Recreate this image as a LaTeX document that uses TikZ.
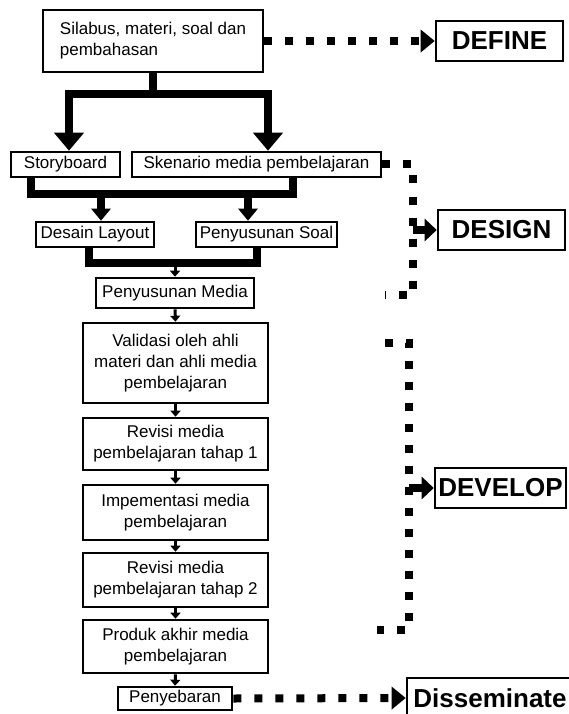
\documentclass[tikz,border=0pt]{standalone}
\usepackage{fontspec}
\setmainfont{Liberation Sans}
\usetikzlibrary{arrows.meta,calc}

\begin{document}
\begin{tikzpicture}[x=1pt, y=-1pt, line join=miter, font=\fontsize{17}{21}\selectfont,
    box/.style={draw, line width=2.6pt, align=center, inner sep=1pt},
    stage/.style={draw, line width=2.6pt, inner sep=1pt, minimum height=40pt, font=\fontsize{26}{30}\selectfont\bfseries},
    bigline/.style={line width=8pt},
    midtip/.style={-{Triangle[length=12pt,width=19pt]}},
    flow/.style={line width=3pt, -{Triangle[length=6pt,width=10pt]}},
    dotline/.style={line width=8pt, dash pattern=on 8pt off 13pt},
    dotarrow/.style={dotline, -{Triangle[length=14pt,width=22pt]}},
    phase/.style={line width=8pt, -{Triangle[length=12pt,width=22pt]}}]
\useasboundingbox (0,0) rectangle (568,714);

% langkah-langkah
\node[box, align=left, minimum width=220pt, minimum height=62pt] (silabus) at (153,41) {Silabus, materi, soal dan\\pembahasan};
\node[box, minimum width=109pt, minimum height=25pt] (storyboard) at (65.5,164.5) {Storyboard};
\node[box, minimum width=249pt, minimum height=25pt] (skenario) at (256.5,164.5) {Skenario media pembelajaran};
\node[box, minimum width=118pt, minimum height=25pt] (desain) at (95,234.5) {Desain Layout};
\node[box, minimum width=141pt, minimum height=25pt] (soal) at (266.5,234.5) {Penyusunan Soal};
\node[box, minimum width=158pt, minimum height=30pt] (media) at (175,293) {Penyusunan Media};
\node[box, minimum width=185pt, minimum height=80pt] (validasi) at (175.5,363) {Validasi oleh ahli\\materi dan ahli media\\pembelajaran};
\node[box, minimum width=185pt, minimum height=52pt] (revisi1) at (175.5,444) {Revisi media\\pembelajaran tahap 1};
\node[box, minimum width=185pt, minimum height=55pt] (implementasi) at (175.5,512.5) {Impementasi media\\pembelajaran};
\node[box, minimum width=185pt, minimum height=54pt] (revisi2) at (175.5,580) {Revisi media\\pembelajaran tahap 2};
\node[box, minimum width=185pt, minimum height=53pt] (produk) at (175.5,646.5) {Produk akhir media\\pembelajaran};
\node[box, minimum width=114pt, minimum height=23pt] (penyebaran) at (175,698.5) {Penyebaran};

% tahap 4D
\node[stage, minimum width=127pt] (define) at (499.5,41) {DEFINE};
\node[stage, minimum width=127pt] (design) at (501.5,230) {DESIGN};
\node[stage, minimum width=131pt] (develop) at (500.5,488) {DEVELOP};
\node[stage, minimum width=166pt] (disseminate) at (490,698) {Disseminate};

% cabang tebal
\coordinate (bar1) at ([yshift=-21pt]silabus.south);
\draw[bigline] (silabus.south) -- (bar1);
\draw[bigline, {Triangle[length=18pt,width=29pt]}-{Triangle[length=18pt,width=29pt]}]
  ([xshift=3.5pt]storyboard.north) |- (bar1) -| ([xshift=11.5pt]skenario.north);

\coordinate (bar2) at (160,194);
\draw[bigline] ([xshift=-34.5pt]storyboard.south) |- (bar2) -| ([xshift=36.5pt]skenario.south);
\draw[bigline, midtip] ($(desain.north |- bar2)+(6,0)$) -- ([xshift=6pt]desain.north);
\draw[bigline, midtip] ($(soal.north |- bar2)+(-18.5,0)$) -- ([xshift=-18.5pt]soal.north);

\coordinate (bar3) at (173,263);
\draw[bigline] ([xshift=-6pt]desain.south) |- (bar3) -| ([xshift=-9.5pt]soal.south);
\draw[flow] (media.north |- bar3) -- (media.north);

\foreach \a/\b in {media/validasi, validasi/revisi1, revisi1/implementasi,
                   implementasi/revisi2, revisi2/produk, produk/penyebaran}
  \draw[flow] (\a.south) -- (\b.north);

% garis putus-putus
\draw[dotarrow] (silabus.east) -- (define.west);
\draw[dotarrow] (penyebaran.east) -- (disseminate.west);

\coordinate (dsgtop) at ([xshift=31pt]skenario.east);
\coordinate (dsgend) at (385,295);
\draw[dotline] (skenario.east) -- (dsgtop) |- (dsgend);
\draw[phase] (dsgtop |- design.west) -- (design.west);

\coordinate (dvltop) at (385,343);
\coordinate (dvlcorner) at (409,630);
\coordinate (dvlend) at (377,630);
\draw[dotline] (dvltop) -| (dvlcorner) -- (dvlend);
\draw[phase] (dvlcorner |- develop.west) -- (develop.west);
\end{tikzpicture}
\end{document}
